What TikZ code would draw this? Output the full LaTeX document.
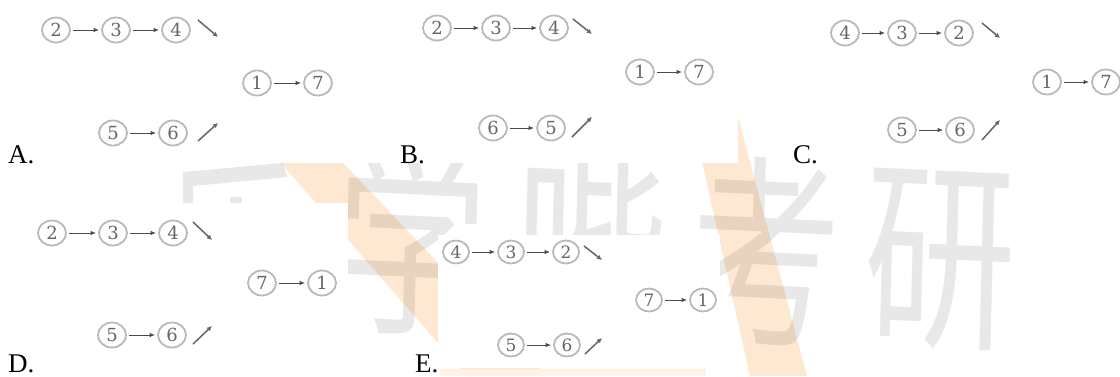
\documentclass[tikz,border=0pt]{standalone}
\usepackage{fontspec}
\newfontfamily\tnr{Liberation Serif}
\newfontfamily\cjk{Noto Sans CJK SC}
\newfontfamily\dig{DejaVu Serif}
\usetikzlibrary{arrows.meta,shapes.geometric}
\tikzset{
  cn/.style={ellipse, draw=gray!55, line width=1.8pt, minimum width=28pt, minimum height=25pt,
    inner sep=0pt, text=black!60, font=\dig\fontsize{18}{18}\selectfont},
  cns/.style={cn, minimum width=26pt, minimum height=23pt, font=\dig\fontsize{17}{17}\selectfont},
  arr/.style={draw=black!70, line width=1pt, -{Latex[length=5.5pt,width=4.5pt]}, shorten >=2pt, shorten <=2pt},
  diagarr/.style={draw=black!60, line width=1.5pt, -{Latex[length=5pt,width=5pt]}},
  lbl/.style={anchor=base west, inner sep=0pt, font=\tnr\fontsize{27}{27}\selectfont},
  wm/.style={font=\cjk\fontsize{152}{152}\selectfont, text=black, text opacity=0.09, inner sep=0pt,
    yscale=1.35, rotate=-2},
  band/.style={fill=orange!18},
  cover/.style={fill=white}
}
\begin{document}
\begin{tikzpicture}[x=1pt,y=-1pt]
\useasboundingbox (0,0) rectangle (1120,376);
\fill[white] (0,0) rectangle (1120,376);
% ---- watermark ----
\fill[band] (281,163) -- (343,163) -- (546,376) -- (467,376) -- cycle;
\fill[band] (692,117) -- (738,117) -- (807,376) -- (750,376) -- cycle;
\fill[orange!10] (440,369) rectangle (706,376);
\fill[black, opacity=0.09] (183,172) -- (283,163) -- (287,177) -- (193,186) -- (193,203) -- (183,203) -- cycle;
\fill[black, opacity=0.09] (230,197) rectangle (242,203);
\node[wm] (w1) at (411,240) {学};
\node[wm] (w2) at (590,246) {哔};
\node[wm] (w3) at (765,251) {考};
\node[wm] (w4) at (940,260) {研};
% ---- option image backgrounds ----
\fill[cover] (0,0) rectangle (738,163);
\fill[cover] (750,0) rectangle (1120,150);
\fill[cover] (0,203) rectangle (348,376);
\fill[cover] (438,235) rectangle (720,368);
% ---- A ----
\node[cn] (a2) at (56,30) {2};
\node[cn] (a3) at (116,30) {3};
\node[cn] (a4) at (176,30) {4};
\node[cn] (a1) at (257,83) {1};
\node[cn] (a7) at (318,83) {7};
\node[cn] (a5) at (113,133) {5};
\node[cn] (a6) at (173,133) {6};
\draw[arr] (a2) -- (a3);
\draw[arr] (a3) -- (a4);
\draw[arr] (a1) -- (a7);
\draw[arr] (a5) -- (a6);
\coordinate (ats) at (198,20); \coordinate (ate) at (218,37);
\coordinate (abs) at (198,141); \coordinate (abe) at (218,123);
\draw[diagarr] (ats) -- (ate);
\draw[diagarr] (abs) -- (abe);
\node[lbl] (la) at (8,163) {A.};
% ---- B ----
\node[cn] (b2) at (437,28) {2};
\node[cn] (b3) at (496,28) {3};
\node[cn] (b4) at (554,28) {4};
\node[cn] (b1) at (640,72) {1};
\node[cn] (b7) at (699,72) {7};
\node[cn] (b6) at (493,128) {6};
\node[cn] (b5) at (551,128) {5};
\draw[arr] (b2) -- (b3);
\draw[arr] (b3) -- (b4);
\draw[arr] (b1) -- (b7);
\draw[arr] (b6) -- (b5);
\coordinate (bts) at (573,19); \coordinate (bte) at (592,34);
\coordinate (bbs) at (572,137); \coordinate (bbe) at (592,117);
\draw[diagarr] (bts) -- (bte);
\draw[diagarr] (bbs) -- (bbe);
\node[lbl] (lb) at (400,163) {B.};
% ---- C ----
\node[cn] (c4) at (845,33) {4};
\node[cn] (c3) at (902,33) {3};
\node[cn] (c2) at (959,33) {2};
\node[cn] (c1) at (1047,82) {1};
\node[cn] (c7) at (1106,82) {7};
\node[cn] (c5) at (902,130) {5};
\node[cn] (c6) at (960,130) {6};
\draw[arr] (c4) -- (c3);
\draw[arr] (c3) -- (c2);
\draw[arr] (c1) -- (c7);
\draw[arr] (c5) -- (c6);
\coordinate (cts) at (982,23); \coordinate (cte) at (1000,38);
\coordinate (cbs) at (982,140); \coordinate (cbe) at (1000,120);
\draw[diagarr] (cts) -- (cte);
\draw[diagarr] (cbs) -- (cbe);
\node[lbl] (lc) at (793,163) {C.};
% ---- D ----
\node[cn] (d2) at (52,233) {2};
\node[cn] (d3) at (113,233) {3};
\node[cn] (d4) at (173,233) {4};
\node[cn] (d7) at (262,283) {7};
\node[cn] (d1) at (322,283) {1};
\node[cn] (d5) at (112,335) {5};
\node[cn] (d6) at (172,335) {6};
\draw[arr] (d2) -- (d3);
\draw[arr] (d3) -- (d4);
\draw[arr] (d7) -- (d1);
\draw[arr] (d5) -- (d6);
\coordinate (dts) at (193,222); \coordinate (dte) at (212,240);
\coordinate (dbs) at (193,344); \coordinate (dbe) at (212,326);
\draw[diagarr] (dts) -- (dte);
\draw[diagarr] (dbs) -- (dbe);
\node[lbl] (ld) at (8,372) {D.};
% ---- E ----
\node[cns] (e4) at (456,252) {4};
\node[cns] (e3) at (511,252) {3};
\node[cns] (e2) at (566,252) {2};
\node[cns] (e7) at (649,300) {7};
\node[cns] (e1) at (703,300) {1};
\node[cns] (e5) at (511,345) {5};
\node[cns] (e6) at (567,345) {6};
\draw[arr] (e4) -- (e3);
\draw[arr] (e3) -- (e2);
\draw[arr] (e7) -- (e1);
\draw[arr] (e5) -- (e6);
\coordinate (ets) at (584,246); \coordinate (ete) at (602,260);
\coordinate (ebs) at (585,354); \coordinate (ebe) at (602,338);
\draw[diagarr] (ets) -- (ete);
\draw[diagarr] (ebs) -- (ebe);
\node[lbl] (le) at (415,372) {E.};
\end{tikzpicture}
\end{document}
